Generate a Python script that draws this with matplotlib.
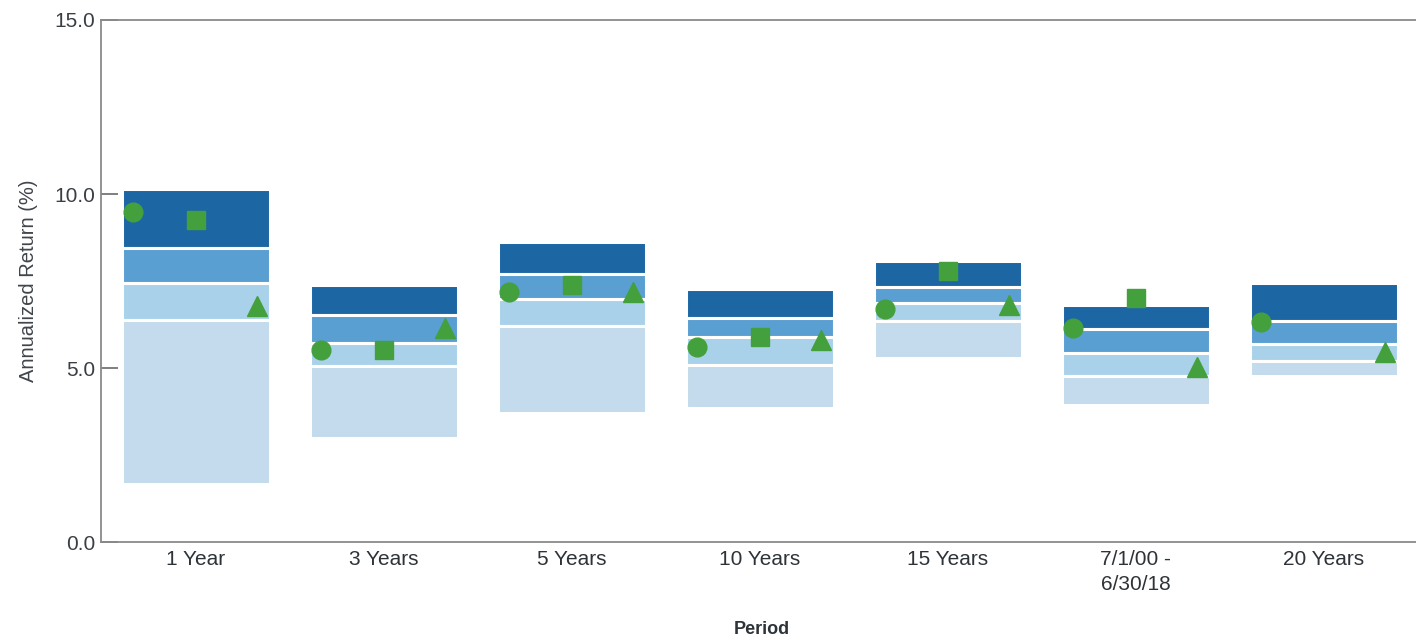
import matplotlib.pyplot as plt
import numpy as np

periods = ['1 Year', '3 Years', '5 Years', '10 Years', '15 Years', '7/1/00 -\n6/30/18', '20 Years']

# percentile band edges per period: 5th, 25th, median, 75th, 95th (top to bottom)
p05 = [10.14, 7.39, 8.62, 7.27, 8.07, 6.81, 7.44]
p25 = [8.45, 6.52, 7.70, 6.45, 7.33, 6.12, 6.35]
p50 = [7.45, 5.73, 6.98, 5.89, 6.88, 5.43, 5.69]
p75 = [6.37, 5.06, 6.22, 5.10, 6.36, 4.76, 5.19]
p95 = [1.67, 2.99, 3.71, 3.85, 5.29, 3.94, 4.77]

# portfolio returns plotted over the bands
circle_vals = [9.48, 5.52, 7.18, 5.60, 6.70, 6.15, 6.32]
square_vals = [9.25, 5.52, 7.39, 5.89, 7.79, 7.01, np.nan]
triangle_vals = [6.78, 6.15, 7.18, 5.80, 6.81, 5.03, 5.46]

band_colors = ['#1b66a3', '#5a9fd1', '#a9d2ea', '#c3dbec']
green = '#44a03c'

fig = plt.figure(figsize=(14.16, 6.41), dpi=100)
ax = fig.add_axes([0.0713, 0.1544, 0.9287, 0.8144])

x = np.arange(len(periods))
width = 0.79
edges = [p05, p25, p50, p75, p95]
for k in range(4):
    top = np.array(edges[k])
    bot = np.array(edges[k + 1])
    ax.bar(x, top - bot, bottom=bot, width=width, color=band_colors[k],
           edgecolor='white', linewidth=2.2, zorder=2)

ax.plot(x - 0.335, circle_vals, 'o', color=green, markersize=13.5, zorder=3, linestyle='none')
ax.plot(x, square_vals, 's', color=green, markersize=13, zorder=3, linestyle='none')
ax.plot(x + 0.325, triangle_vals, '^', color=green, markersize=14, zorder=3, linestyle='none')

ax.set_xlim(-0.505, 6.49)
ax.set_ylim(0, 15)
ax.set_yticks([0, 5, 10, 15])
ax.set_yticklabels(['0.0', '5.0', '10.0', '15.0'])
ax.set_xticks(x)
ax.set_xticklabels(periods)

for lab in ax.get_yticklabels():
    lab.set_fontfamily('Liberation Sans')
    lab.set_fontsize(15)
    lab.set_color('#3a3f45')
for lab in ax.get_xticklabels():
    lab.set_fontfamily('Liberation Sans')
    lab.set_fontsize(15)
    lab.set_color('#2e3338')
    lab.set_verticalalignment('top')
    lab.set_linespacing(1.35)

ax.tick_params(axis='y', direction='in', length=12, width=1.2, color='#6a6a6a', pad=4)
ax.tick_params(axis='x', length=0, pad=6)

for side in ['left', 'bottom', 'top']:
    ax.spines[side].set_color('#8a8a8a')
    ax.spines[side].set_linewidth(1.3)
ax.spines['right'].set_visible(False)

ax.set_ylabel('Annualized Return (%)', fontfamily='Liberation Sans', fontsize=14.5,
              color='#3f454b', labelpad=12)
fig.text(0.538, 0.005, 'Period', ha='center', va='bottom', fontfamily='Liberation Sans',
         fontsize=13, fontweight='bold', color='#2e3338')

fig.savefig('out.png', dpi=100)
